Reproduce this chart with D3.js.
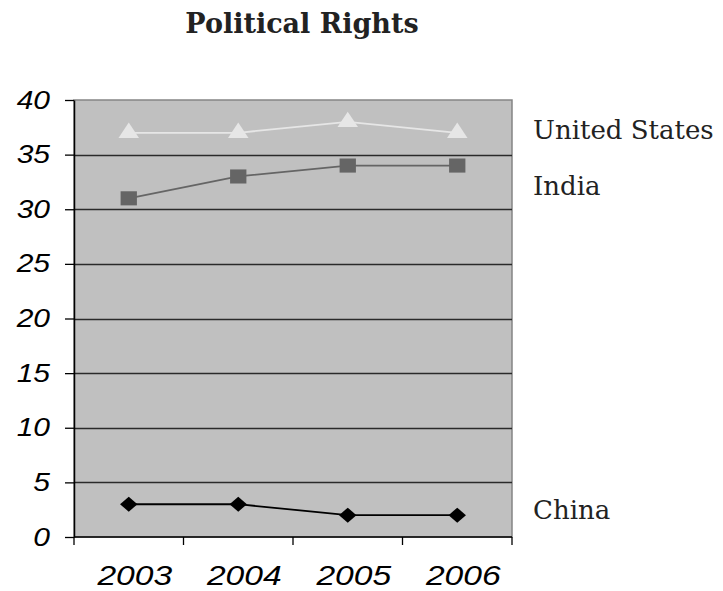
<!DOCTYPE html>
<html>
<head>
<meta charset="utf-8">
<script src="https://cdn.jsdelivr.net/npm/d3@7"></script>
<style>
  body { margin: 0; background: #fff; }
  svg { display: block; }
</style>
</head>
<body>
<div id="chart"></div>
<script>
// Chart data
const years = ['2003', '2004', '2005', '2006'];
const usValues = [37, 37, 38, 37];
const indiaValues = [31, 33, 34, 34];
const chinaValues = [3, 3, 2, 2];
const yTicks = [0, 5, 10, 15, 20, 25, 30, 35, 40];

const series = [
    { name: 'United States', values: usValues, color: '#e6e6e6', marker: d3.symbolTriangle, size: 150, rotate: 0 },
    { name: 'India', values: indiaValues, color: '#656565', marker: d3.symbolSquare, size: 220, rotate: 0 },
    { name: 'China', values: chinaValues, color: '#000000', marker: d3.symbolSquare, size: 125, rotate: 45 }
];

const width = 723;
const height = 591;
const margin = { top: 100, right: 211, bottom: 54, left: 74 };

const svg = d3.select('#chart')
    .append('svg')
    .attr('width', width)
    .attr('height', height);

const x = d3.scaleBand()
    .domain(years)
    .range([margin.left, width - margin.right]);

const y = d3.scaleLinear()
    .domain([0, 40])
    .range([height - margin.bottom, margin.top]);

// Plot background
svg.append('rect')
    .attr('x', margin.left)
    .attr('y', margin.top)
    .attr('width', width - margin.right - margin.left)
    .attr('height', y(0) - margin.top)
    .attr('fill', '#c0c0c0')
    .attr('stroke', '#858585')
    .attr('stroke-width', 1.5);

// Gridlines
svg.append('g')
    .selectAll('line')
    .data(yTicks.filter(d => d > 0 && d < 40))
    .join('line')
    .attr('x1', margin.left)
    .attr('x2', width - margin.right)
    .attr('y1', d => Math.round(y(d)) + 0.5)
    .attr('y2', d => Math.round(y(d)) + 0.5)
    .attr('stroke', '#2a2a2a')
    .attr('stroke-width', 1.3);

// Y axis
const yAxis = svg.append('g')
    .attr('transform', `translate(${margin.left}, 0)`)
    .call(d3.axisLeft(y).tickValues(yTicks).tickSize(9).tickSizeOuter(0).tickPadding(14));
yAxis.select('.domain').attr('stroke', '#000').attr('stroke-width', 1.5);
yAxis.selectAll('.tick line').attr('stroke', '#000').attr('stroke-width', 1.3);
yAxis.selectAll('.tick text')
    .attr('font-family', 'Liberation Sans, Arial, sans-serif')
    .attr('font-style', 'italic')
    .attr('font-size', 25)
    .attr('fill', '#000')
    .attr('transform', 'scale(1.2,1)')
    .attr('x', -20);

// X axis
const xAxis = svg.append('g')
    .attr('transform', `translate(0, ${y(0)})`)
    .call(d3.axisBottom(x).tickSize(0));
xAxis.select('.domain').remove();
svg.append('line')
    .attr('x1', margin.left)
    .attr('x2', width - margin.right)
    .attr('y1', y(0))
    .attr('y2', y(0))
    .attr('stroke', '#000')
    .attr('stroke-width', 1.5);
// Category separator ticks
const bounds = years.map(d => x(d)).concat([x.range()[1]]);
svg.append('g')
    .selectAll('line')
    .data(bounds)
    .join('line')
    .attr('x1', d => d)
    .attr('x2', d => d)
    .attr('y1', y(0))
    .attr('y2', y(0) + 8)
    .attr('stroke', '#000')
    .attr('stroke-width', 1.3);
xAxis.selectAll('.tick text')
    .attr('font-family', 'Liberation Sans, Arial, sans-serif')
    .attr('font-style', 'italic')
    .attr('font-size', 28)
    .attr('fill', '#000')
    .attr('dy', 0)
    .attr('y', 48)
    .attr('x', 5)
    .attr('transform', 'scale(1.2,1)');

// Lines and markers
const line = d3.line()
    .x((d, i) => x(years[i]) + x.bandwidth() / 2)
    .y(d => y(d));

series.forEach(s => {
    svg.append('path')
        .datum(s.values)
        .attr('fill', 'none')
        .attr('stroke', s.color)
        .attr('stroke-width', 1.8)
        .attr('d', line);

    svg.append('g')
        .selectAll('path')
        .data(s.values)
        .join('path')
        .attr('transform', (d, i) => `translate(${x(years[i]) + x.bandwidth() / 2}, ${y(d)}) scale(1.1,0.95) rotate(${s.rotate})`)
        .attr('d', d3.symbol().type(s.marker).size(s.size))
        .attr('fill', s.color);
});

// Series labels
const labelY = { 'United States': 139, 'India': 195, 'China': 519 };
svg.append('g')
    .selectAll('text')
    .data(series)
    .join('text')
    .attr('x', width - margin.right + 21)
    .attr('y', d => labelY[d.name])
    .attr('font-family', 'DejaVu Serif, serif')
    .attr('font-size', 26)
    .attr('fill', '#222')
    .text(d => d.name);

// Title
svg.append('text')
    .attr('x', 302)
    .attr('y', 33)
    .attr('text-anchor', 'middle')
    .attr('font-family', 'DejaVu Serif, serif')
    .attr('font-weight', 'bold')
    .attr('font-size', 27)
    .attr('fill', '#222')
    .text('Political Rights');
</script>
</body>
</html>
